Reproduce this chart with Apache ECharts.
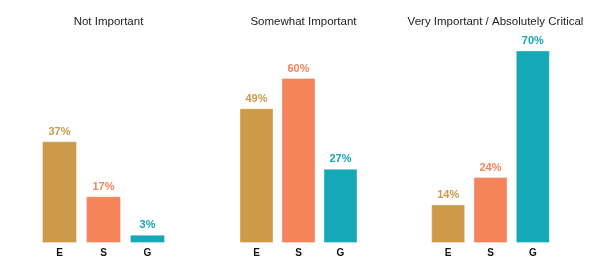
<!DOCTYPE html>
<html>
<head>
<meta charset="utf-8">
<script src="https://cdn.jsdelivr.net/npm/echarts@6/dist/echarts.min.js"></script>
<style>html,body{margin:0;padding:0;background:#fff;}#c{width:604px;height:271px;}</style>
</head>
<body>
<div id="c"></div>
<script>
var categories = ['E', 'S', 'G'];
var panelTitles = ['Not Important', 'Somewhat Important', 'Very Important / Absolutely Critical'];
var notImportant = [37, 17, 3];
var somewhatImportant = [49, 60, 27];
var veryImportant = [14, 24, 70];
var barColors = ['#CD9A4A', '#F6845A', '#15A8B6'];

var panels = [notImportant, somewhatImportant, veryImportant];
var grids = [
  {left: 37.5, width: 132, top: 23, height: 220},
  {left: 235.5, width: 126, top: 23, height: 220},
  {left: 427, width: 127, top: 23, height: 220}
];
var barWidths = [35, 34, 34];

var chart = echarts.init(document.getElementById('c'), null, {renderer: 'canvas'});
var option = {
  animation: false,
  backgroundColor: '#ffffff',
  title: panelTitles.map(function (t, i) {
    return {
      text: t,
      left: grids[i].left + grids[i].width / 2,
      top: 11,
      textAlign: 'center',
      textStyle: {fontFamily: 'Liberation Sans, Arial, sans-serif', fontSize: 11.5, fontWeight: 'normal', color: '#222222'}
    };
  }),
  grid: grids,
  xAxis: grids.map(function (g, i) {
    return {
      type: 'category', gridIndex: i, data: categories,
      axisLine: {show: false}, axisTick: {show: false},
      axisLabel: {margin: 5, fontFamily: 'Liberation Sans, Arial, sans-serif', fontSize: 10, fontWeight: 'bold', color: '#111111'}
    };
  }),
  yAxis: grids.map(function (g, i) {
    return {type: 'value', gridIndex: i, min: 0, max: 80, show: false, splitLine: {show: false}};
  }),
  series: panels.map(function (vals, i) {
    return {
      type: 'bar', xAxisIndex: i, yAxisIndex: i, barWidth: barWidths[i],
      data: vals.map(function (v, j) {
        return {
          value: v,
          itemStyle: {color: barColors[j], borderColor: 'rgba(255,255,255,0.35)', borderWidth: 1},
          label: {color: barColors[j]}
        };
      }),
      label: {
        show: true, position: 'top', distance: 4,
        formatter: '{c}%',
        fontFamily: 'Liberation Sans, Arial, sans-serif', fontSize: 11, fontWeight: 'bold'
      }
    };
  })
};
chart.setOption(option);
</script>
</body>
</html>
